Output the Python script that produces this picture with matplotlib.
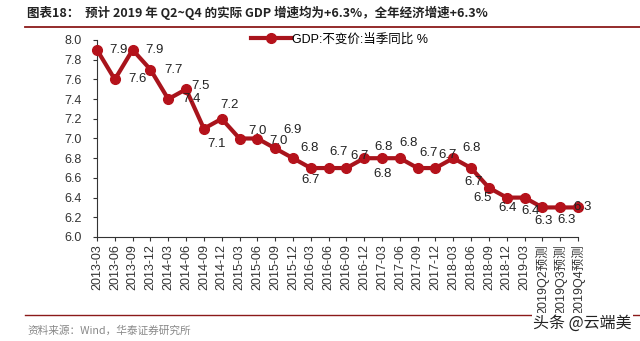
import numpy as np
import matplotlib.pyplot as plt

plt.rcParams['font.family'] = ['Liberation Sans', 'Noto Sans CJK SC', 'DejaVu Sans']

# 季度标签与 GDP 同比增速 (%)
quarters = ['2013-03', '2013-06', '2013-09', '2013-12',
            '2014-03', '2014-06', '2014-09', '2014-12',
            '2015-03', '2015-06', '2015-09', '2015-12',
            '2016-03', '2016-06', '2016-09', '2016-12',
            '2017-03', '2017-06', '2017-09', '2017-12',
            '2018-03', '2018-06', '2018-09', '2018-12',
            '2019-03', '2019Q2预测', '2019Q3预测', '2019Q4预测']
gdp = [7.9, 7.6, 7.9, 7.7, 7.4, 7.5, 7.1, 7.2,
       7.0, 7.0, 6.9, 6.8, 6.7, 6.7, 6.7, 6.8,
       6.8, 6.8, 6.7, 6.7, 6.8, 6.7, 6.5, 6.4,
       6.4, 6.3, 6.3, 6.3]
yticks = np.arange(6.0, 8.01, 0.2)

# 数据标签偏移 (像素, 向右/向上)
lab_off = [(21, 0), (23, 0), (22, 0), (23, 0), (23, 0), (14, 3), (13, -15), (8, 14),
           (18, 8), (21, -3), (17, 18), (17, 10), (0, -12), (10, 16), (13, 12), (19, 11),
           (1, -16), (9, 15), (11, 15), (12, 13), (18, 10), (2, -14), (-6, -10), (1, -10),
           (6, -13), (1, -14), (6, -13), (5, 0)]

red = '#A8141C'

fig = plt.figure(figsize=(6.4, 3.41), dpi=100)
ax = fig.add_axes([97 / 640, 1 - 237 / 341, (578 - 97) / 640, (237 - 40) / 341])

x = np.arange(len(gdp))
ax.plot(x, gdp, color=red, lw=3, marker='o', ms=7, mfc='#B5121B', mec='#B5121B',
        label='GDP:不变价:当季同比 %', clip_on=False, zorder=3)

for i, v in enumerate(gdp):
    dx, dy = lab_off[i]
    ax.annotate(f'{v:.1f}', (i, v), xytext=(dx, dy), textcoords='offset pixels',
                ha='center', va='center', fontsize=9.5, color='#222222', zorder=4)

ax.set_xlim(0, len(gdp) - 1)
ax.set_ylim(6.0, 8.0)
ax.set_yticks(yticks)
ax.set_yticklabels([f'{t:.1f}' for t in yticks], fontsize=9)
ax.set_xticks(x)
ax.set_xticklabels(quarters, rotation=90, fontsize=9)
ax.tick_params(axis='both', length=3, width=0.8, colors='#333333')
ax.tick_params(axis='y', pad=8)
ax.tick_params(axis='x', pad=2)
for s in ['top', 'right']:
    ax.spines[s].set_visible(False)
for s in ['left', 'bottom']:
    ax.spines[s].set_color('#333333')

leg = ax.legend(loc='upper left', bbox_to_anchor=(0.31, 1.06), frameon=False,
                fontsize=9, handlelength=3.2, handletextpad=0.1, borderaxespad=0)

# 标题与分隔线
fig.text(27 / 640, 1 - 13 / 341, '图表18：  预计 2019 年 Q2~Q4 的实际 GDP 增速均为+6.3%，全年经济增速+6.3%',
         fontsize=9, fontweight='bold', va='center', ha='left', color='#222222',
         family=['Noto Sans CJK SC', 'DejaVu Sans'])
fig.add_artist(plt.Line2D([25 / 640, 1], [1 - 27 / 341] * 2, color='#8B1A1A', lw=1.3))
fig.add_artist(plt.Line2D([25 / 640, 1], [1 - 315 / 341] * 2, color='#8B1A1A', lw=1.0))
fig.text(27 / 640, 1 - 331 / 341, '资料来源：Wind，华泰证券研究所', fontsize=7.7,
         va='center', ha='left', color='#888888', family=['Noto Sans CJK SC', 'DejaVu Sans'])
fig.text(632 / 640, 1 - 323 / 341, '头条 @云端美', fontsize=11.5, va='center', ha='right',
         color='#222222', family=['Noto Sans CJK SC', 'DejaVu Sans'],
         bbox=dict(facecolor='white', edgecolor='none', pad=1))

fig.savefig('out.png', dpi=100)
